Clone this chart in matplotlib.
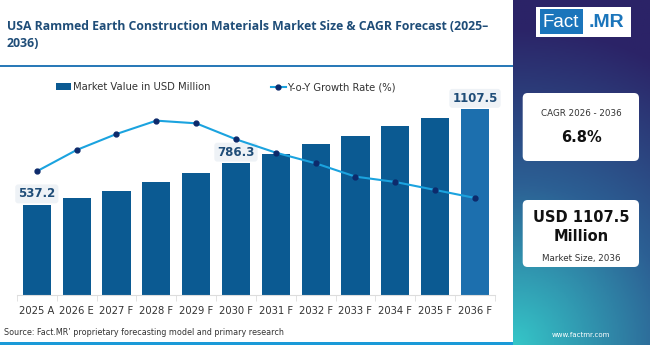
import matplotlib.pyplot as plt
import numpy as np
from matplotlib.colors import LinearSegmentedColormap
from matplotlib.patches import FancyBboxPatch, Rectangle

years = ["2025 A", "2026 E", "2027 F", "2028 F", "2029 F", "2030 F",
         "2031 F", "2032 F", "2033 F", "2034 F", "2035 F", "2036 F"]
market_value = [537.2, 576, 619, 672, 730, 786.3, 843, 899, 951, 1006, 1059, 1107.5]
yoy_growth = [6.2, 7.0, 7.6, 8.1, 8.0, 7.4, 6.9, 6.5, 6.0, 5.8, 5.5, 5.2]
labelled = {0: "537.2", 5: "786.3", 11: "1107.5"}

title = "USA Rammed Earth Construction Materials Market Size & CAGR Forecast (2025\u2013\n2036)"
cagr_label = "CAGR 2026 - 2036"
cagr_value = "6.8%"
size_value = "USD 1107.5\nMillion"
size_label = "Market Size, 2036"
source = "Source: Fact.MR\u2019 proprietary forecasting model and primary research"

W, H = 650, 345
BAR = "#0b5a92"
BAR_LAST = "#1c6fae"
LINE = "#1ba3df"
DOT = "#0d2a6b"
NAVY = "#1f4d78"

plt.rcParams["font.family"] = ["DejaVu Sans"]

fig = plt.figure(figsize=(W / 100, H / 100), dpi=100)
fig.patch.set_facecolor("white")

# main chart
ax = fig.add_axes([16.9 / W, 50 / H, 478 / W, 217.8 / H])
x = np.arange(len(years))
colors = [BAR] * (len(years) - 1) + [BAR_LAST]
ax.bar(x, market_value, width=0.71, color=colors, zorder=2,
       label="Market Value in USD Million")
ax.set_xlim(-0.5, len(years) - 0.5)
ax.set_ylim(0, 1300)
ax.set_yticks([])
for s in ["top", "right", "left"]:
    ax.spines[s].set_visible(False)
ax.spines["bottom"].set_color("#dddddd")
ax.set_xticks(x)
ax.set_xticklabels(years, fontsize=7.2, color="#333333")
ax.tick_params(axis="x", which="major", length=0, pad=8)
ax.set_xticks(np.arange(-0.5, len(years)), minor=True)
ax.tick_params(axis="x", which="minor", length=4, color="#dddddd")

for i, txt in labelled.items():
    ax.annotate(txt, (x[i], market_value[i]), xytext=(0, 8), textcoords="offset points",
                ha="center", va="center", fontsize=8.5, fontweight="bold", color=NAVY,
                bbox=dict(boxstyle="round,pad=0.25", fc="#eef2f6", ec="none"), zorder=5)

ax2 = ax.twinx()
ax2.plot(x, yoy_growth, color=LINE, lw=1.5, marker="o", ms=3.5,
         mfc=DOT, mec=DOT, zorder=4, label="Y-o-Y Growth Rate (%)")
ax2.set_ylim(1.56, 9.73)
ax2.set_yticks([])
for s in ["top", "right", "left", "bottom"]:
    ax2.spines[s].set_visible(False)

h1, l1 = ax.get_legend_handles_labels()
h2, l2 = ax2.get_legend_handles_labels()
fig.legend(h1 + h2, l1 + l2, loc="center", bbox_to_anchor=(226 / W, 1 - 87.3 / H),
           ncol=2, frameon=False, fontsize=7.2, columnspacing=6, handlelength=1.5,
           handletextpad=0.2, labelcolor="#333333")

# title, separators, source
fig.text(7 / W, 1 - 35 / H, title, fontsize=8.8, fontweight="bold", color=NAVY,
         va="center", ha="left", linespacing=1.45, family=["Open Sans", "DejaVu Sans"])
fig.add_artist(Rectangle((0, 1 - 67 / H), 513 / W, 2.2 / H, transform=fig.transFigure,
                         color="#2a7ab8", lw=0))
fig.add_artist(Rectangle((0, 0), 513 / W, 3.2 / H, transform=fig.transFigure,
                         color="#1a9ad8", lw=0))
fig.text(4 / W, 1 - 332.7 / H, source, fontsize=5.8, color="#333333", va="center")

# right panel with gradient from the bottom-left corner, in pixel coordinates
pax = fig.add_axes([513 / W, 0, 137 / W, 1])
pax.set_xlim(513, 650)
pax.set_ylim(345, 0)
pax.axis("off")
px, py = np.meshgrid(np.linspace(0, 137, 70), np.linspace(345, 0, 170))
t = np.clip(np.hypot(px, py) / 320, 0, 1)
cmap = LinearSegmentedColormap.from_list("panel", ["#35c6c8", "#2c6094", "#2b2367"])
pax.imshow(t, cmap=cmap, extent=(513, 650, 345, 0), aspect="auto", vmin=0, vmax=1)

# logo
pax.add_patch(Rectangle((535.5, 6.5), 95, 30.5, color="white", lw=0))
pax.add_patch(Rectangle((539.5, 9.3), 43, 25, color="#1b75bb", lw=0))
pax.text(561, 22.5, "Fact", color="white", fontsize=13.5, ha="center", va="center",
         family="Liberation Sans")
pax.text(606.5, 22.5, ".MR", color="#1b75bb", fontsize=14, ha="center", va="center",
         fontweight="bold", family="Liberation Sans")

# cards
for y0, y1 in [(93, 161), (200, 267)]:
    pax.add_patch(FancyBboxPatch((522.7 + 5, y0 + 5), 116.3 - 10, (y1 - y0) - 10,
                                 boxstyle="round,pad=5", fc="white", ec="none"))
pax.text(581, 114, cagr_label, fontsize=6.3, color="#333333", ha="center", va="center")
pax.text(581, 137, cagr_value, fontsize=10.5, fontweight="bold", color="#111111",
         ha="center", va="center")
pax.text(581, 227, size_value, fontsize=10.5, fontweight="bold", color="#111111",
         ha="center", va="center", linespacing=1.3)
pax.text(581, 258, size_label, fontsize=6.3, color="#333333", ha="center", va="center")
pax.text(581, 335, "www.factmr.com", fontsize=5, color="white", ha="center", va="center")

fig.savefig("out.png", dpi=100)
